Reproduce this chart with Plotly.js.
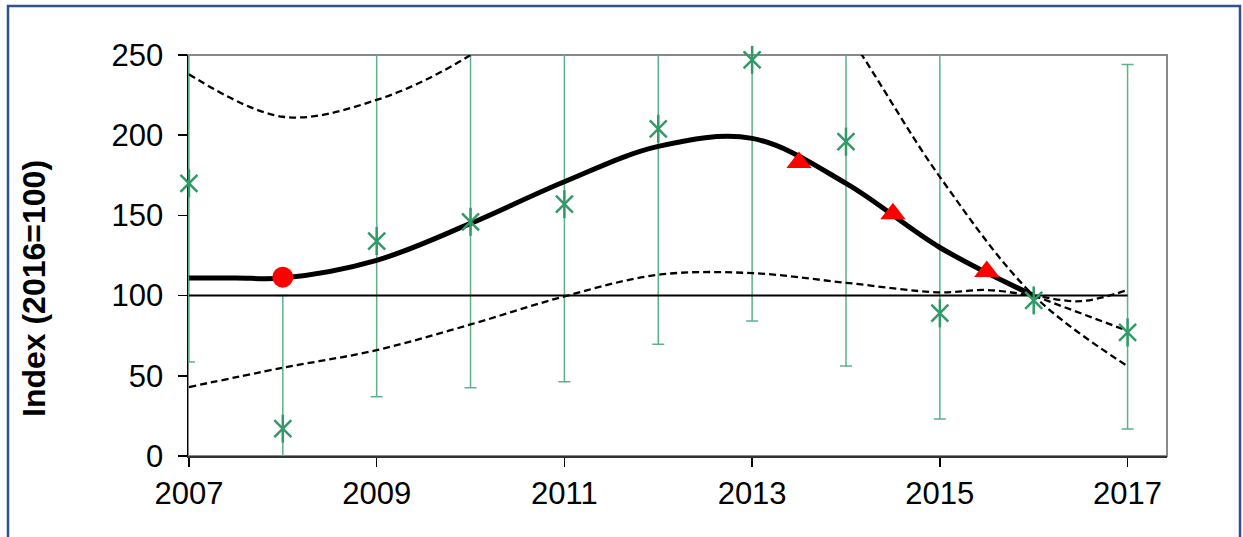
<!DOCTYPE html>
<html>
<head>
<meta charset="utf-8">
<script src="https://cdn.plot.ly/plotly-3.0.1.min.js"></script>
<style>
  html, body { margin: 0; padding: 0; background: #ffffff; }
  #chart { width: 1243px; height: 537px; }
</style>
</head>
<body>
<div id="chart"></div>
<script>
// ---- data ----
const years = [2007, 2008, 2009, 2010, 2011, 2012, 2013, 2014, 2015, 2016, 2017];
const observedIndex = [170, 17, 134, 146, 157, 204, 247, 196, 89, 97, 77];
// upper / lower limits of the yearly error bars (null = no bar)
const barUpper = [330, 100, 300, 320, 330, 400, 420, 380, 290, null, 244];
const barLower = [58.6, -60, 37, 42.6, 46.3, 69.6, 84.2, 56.1, 23.1, null, 16.8];

const trendYears = [2007, 2007.5, 2008, 2009, 2010, 2011, 2012, 2013, 2014, 2015, 2016];
const trendIndex = [111, 111, 111, 122, 145, 171, 193, 198, 170, 130, 100];

const projYears = [2016, 2017];
const projIndex = [100, 78];

const upperYears = [2007, 2008, 2009, 2010, 2011, 2012, 2013, 2014, 2015, 2016, 2017];
const upperCI = [238, 211.5, 222, 250, 295, 340, 345, 265, 174, 100, 56];

const lowerYears = [2007, 2008, 2009, 2010, 2011, 2012, 2013, 2014, 2015, 2015.5, 2016, 2016.5, 2017];
const lowerCI = [43, 55, 66, 82, 99.5, 113, 114, 108, 102, 103.5, 100, 96.5, 103.5];

const refYears = [2007, 2017];
const refIndex = [100, 100];

const circleYears = [2008];
const circleIndex = [111.5];
const triangleYears = [2013.5, 2014.5, 2015.5];
const triangleIndex = [183, 151, 115];

const xTicks = [2007, 2009, 2011, 2013, 2015, 2017];
const yTicks = [0, 50, 100, 150, 200, 250];

// ---- styles ----
const green = '#339966';
const barGreen = '#5cb38a';
const font = 'Liberation Sans, Arial, sans-serif';

const errPlus = observedIndex.map((v, i) => barUpper[i] == null ? NaN : barUpper[i] - v);
const errMinus = observedIndex.map((v, i) => barLower[i] == null ? NaN : v - barLower[i]);

const dashStyle = { color: '#000', width: 2.3, dash: '7px,4px' };

const traces = [
  {
    x: years, y: observedIndex, mode: 'markers', type: 'scatter',
    marker: { opacity: 0, size: 2 },
    error_y: { type: 'data', symmetric: false, array: errPlus, arrayminus: errMinus,
               color: barGreen, thickness: 1.5, width: 6 },
    hoverinfo: 'skip', showlegend: false
  },
  {
    x: lowerYears, y: lowerCI, mode: 'lines', type: 'scatter',
    line: Object.assign({ shape: 'spline', smoothing: 1 }, dashStyle),
    showlegend: false
  },
  {
    x: upperYears, y: upperCI, mode: 'lines', type: 'scatter',
    line: Object.assign({ shape: 'spline', smoothing: 1 }, dashStyle),
    showlegend: false
  },
  {
    x: projYears, y: projIndex, mode: 'lines', type: 'scatter',
    line: Object.assign({}, dashStyle),
    showlegend: false
  },
  {
    x: refYears, y: refIndex, mode: 'lines', type: 'scatter',
    line: { color: '#000', width: 2 },
    showlegend: false
  },
  {
    x: trendYears, y: trendIndex, mode: 'lines', type: 'scatter',
    line: { color: '#000', width: 5, shape: 'spline', smoothing: 1 },
    showlegend: false
  },
  {
    x: years, y: observedIndex, mode: 'markers', type: 'scatter', cliponaxis: false,
    marker: { symbol: 'x-thin-open', size: 17, color: green, line: { color: green, width: 2.5 } },
    showlegend: false
  },
  {
    x: years, y: observedIndex, mode: 'markers', type: 'scatter', cliponaxis: false,
    marker: { symbol: 'line-ns-open', size: 20, color: green, line: { color: green, width: 2.5 } },
    showlegend: false
  },
  {
    x: circleYears, y: circleIndex, mode: 'markers', type: 'scatter', cliponaxis: false,
    marker: { symbol: 'circle', size: 21, color: '#ff0000' },
    showlegend: false
  },
  {
    x: triangleYears, y: triangleIndex, mode: 'markers', type: 'scatter', cliponaxis: false,
    marker: { symbol: 'triangle-up', size: 22, color: '#ff0000' },
    showlegend: false
  }
];

const L = 188, R = 76, T = 55, B = 81, W = 1243, H = 537;
const pw = W - L - R, ph = H - T - B;
const px2x = p => (p - L) / pw;
const px2y = p => (H - B - p) / ph;

const layout = {
  width: W, height: H,
  margin: { l: L, r: R, t: T, b: B, pad: 0 },
  paper_bgcolor: '#ffffff', plot_bgcolor: '#ffffff',
  showlegend: false,
  xaxis: {
    range: [2006.99, 2017.42], tickvals: xTicks, ticktext: xTicks.map(String),
    ticks: 'outside', ticklen: 9, tickwidth: 1.5, tickcolor: '#000',
    showline: true, linecolor: '#333', linewidth: 2,
    showgrid: false, zeroline: false, layer: 'below traces',
    tickfont: { family: font, size: 31, color: '#000' }
  },
  yaxis: {
    range: [0, 250], tickvals: yTicks, ticktext: yTicks.map(String),
    ticks: 'outside', ticklen: 9, tickwidth: 1.5, tickcolor: '#000',
    showline: true, linecolor: '#000', linewidth: 1.5,
    showgrid: false, zeroline: false, layer: 'below traces',
    ticklabelstandoff: 8,
    tickfont: { family: font, size: 31, color: '#000' }
  },
  annotations: [{
    text: '<b>Index (2016=100)</b>', textangle: -90,
    xref: 'paper', yref: 'paper', x: px2x(34), y: px2y(289),
    xanchor: 'center', yanchor: 'middle', showarrow: false,
    font: { family: font, size: 32, color: '#000' }
  }],
  shapes: [
    { type: 'rect', xref: 'paper', yref: 'paper', x0: 0, x1: 1, y0: 0, y1: 1,
      line: { color: '#888888', width: 2 }, layer: 'below' },
    { type: 'rect', xref: 'paper', yref: 'paper',
      x0: px2x(8), x1: px2x(1240), y0: px2y(545), y1: px2y(6),
      line: { color: '#2f528f', width: 2.5 }, layer: 'above' }
  ]
};

Plotly.newPlot('chart', traces, layout, { displayModeBar: false, staticPlot: true });
</script>
</body>
</html>
